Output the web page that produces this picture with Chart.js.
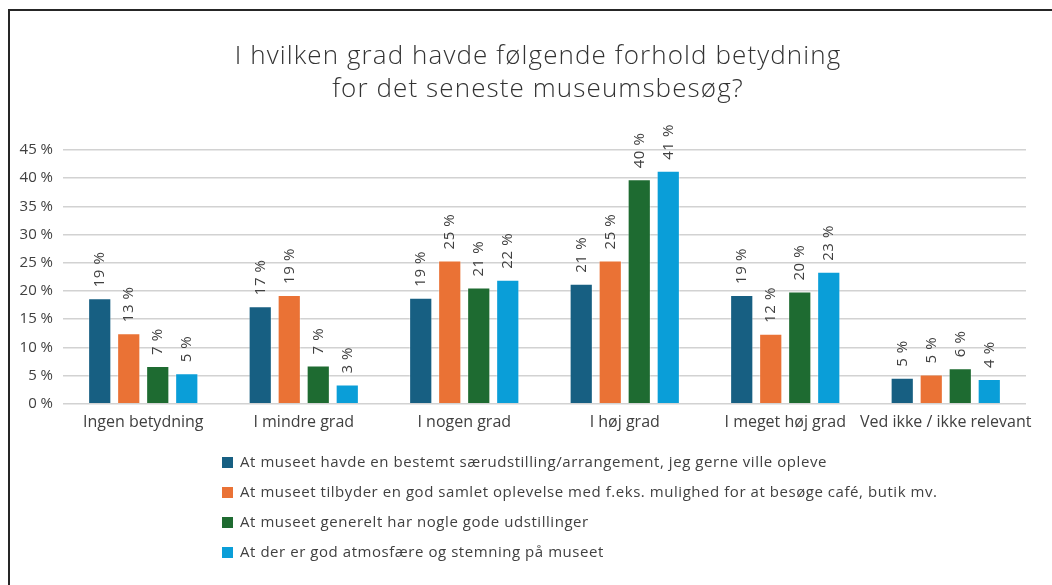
<!DOCTYPE html>
<html>
<head>
<meta charset="utf-8">
<script src="https://cdn.jsdelivr.net/npm/chart.js@4.4.1/dist/chart.umd.min.js"></script>
<style>
  html, body { margin: 0; padding: 0; background: #fff; }
  #wrap { position: relative; width: 1052px; height: 585px; overflow: hidden; font-family: "Open Sans", sans-serif; }
  #frame { position: absolute; left: 8px; top: 9px; width: 1100px; height: 700px;
           border-top: 2px solid #262626; border-left: 2px solid #262626; box-sizing: border-box; }
  #title { position: absolute; left: 188px; width: 700px; top: 38px; text-align: center;
           font-size: 26px; font-weight: 300; letter-spacing: 1.1px; line-height: 33px; color: #333; }
  #chart-box { position: absolute; left: 0; top: 0; width: 1052px; height: 585px; }
  #legend { position: absolute; left: 222px; top: 451px; color: #404040; font-size: 15px; letter-spacing: 0.55px; }
  #legend div { height: 30px; line-height: 20px; white-space: nowrap; }
  #legend span { display: inline-block; width: 11px; height: 11px; margin-right: 7px; vertical-align: -1px; }
</style>
</head>
<body>
<div id="wrap">
  <div id="frame"></div>
  <div id="chart-box"><canvas id="bar-chart" width="1052" height="585"></canvas></div>
  <div id="title">I hvilken grad havde følgende forhold betydning<br>for det seneste museumsbesøg?</div>
  <div id="legend"></div>
</div>
<script>
// kategorier
let categories = ['Ingen betydning', 'I mindre grad', 'I nogen grad', 'I høj grad', 'I meget høj grad', 'Ved ikke / ikke relevant'];

// serier
let series_names = [
  'At museet havde en bestemt særudstilling/arrangement, jeg gerne ville opleve',
  'At museet tilbyder en god samlet oplevelse med f.eks. mulighed for at besøge café, butik mv.',
  'At museet generelt har nogle gode udstillinger',
  'At der er god atmosfære og stemning på museet'
];
let saerudstilling = [18.7, 17.3, 18.8, 21.3, 19.3, 4.6];
let samlet_oplevelse = [12.5, 19.3, 25.4, 25.4, 12.4, 5.2];
let gode_udstillinger = [6.7, 6.8, 20.6, 39.8, 19.9, 6.3];
let atmosfaere = [5.4, 3.4, 22.0, 41.3, 23.4, 4.4];

let y_ticks = [0, 5, 10, 15, 20, 25, 30, 35, 40, 45];

let color_list = ['#175F82', '#EA7235', '#1E6B31', '#0A9ED8'];
let all_values = [saerudstilling, samlet_oplevelse, gode_udstillinger, atmosfaere];

let my_datasets = [];
for (let i = 0; i < series_names.length; i++) {
  my_datasets.push({
    label: series_names[i],
    data: all_values[i],
    backgroundColor: color_list[i],
    borderColor: 'rgba(255,255,255,0.35)',
    borderWidth: 1,
    categoryPercentage: 0.723,
    barPercentage: 0.8
  });
}

// værdier over søjlerne, drejet 90 grader
const barLabels = {
  id: 'barLabels',
  afterDatasetsDraw(chart) {
    const ctx = chart.ctx;
    ctx.save();
    ctx.font = '15px "Open Sans", sans-serif';
    ctx.letterSpacing = '0.6px';
    ctx.fillStyle = '#404040';
    ctx.textAlign = 'left';
    ctx.textBaseline = 'middle';
    chart.data.datasets.forEach((ds, i) => {
      chart.getDatasetMeta(i).data.forEach((bar, j) => {
        ctx.save();
        ctx.translate(bar.x, bar.y - 11);
        ctx.rotate(-Math.PI / 2);
        ctx.fillText(Math.round(ds.data[j]) + ' %', 0, 0);
        ctx.restore();
      });
    });
    ctx.restore();
  }
};

let myChart = new Chart(document.getElementById('bar-chart').getContext('2d'), {
  type: 'bar',
  data: {
    labels: categories,
    datasets: my_datasets
  },
  options: {
    responsive: false,
    animation: false,
    layout: { padding: { left: 0, right: 26, top: 150, bottom: 152 } },
    plugins: {
      legend: { display: false },
      title: { display: false },
      tooltip: { enabled: false }
    },
    scales: {
      x: {
        grid: { display: false },
        border: { display: false },
        ticks: { color: '#404040', font: { family: 'Open Sans', size: 16 }, padding: 1, maxRotation: 0, minRotation: 0, autoSkip: false }
      },
      y: {
        min: 0,
        max: 45,
        afterBuildTicks(scale) { scale.ticks = y_ticks.map(v => ({ value: v })); },
        afterFit(scale) { scale.width = 63; },
        grid: { color: '#d2d2d2', lineWidth: 1.5, drawTicks: false },
        border: { display: false },
        ticks: { color: '#404040', font: { family: 'Open Sans', size: 15 }, padding: 10,
                 callback: function(v) { return v + ' %'; } }
      }
    }
  },
  plugins: [barLabels]
});

// legende
let legend = document.getElementById('legend');
for (let i = 0; i < series_names.length; i++) {
  let row = document.createElement('div');
  row.innerHTML = '<span style="background:' + color_list[i] + '"></span>' + series_names[i];
  legend.appendChild(row);
}
</script>
</body>
</html>
